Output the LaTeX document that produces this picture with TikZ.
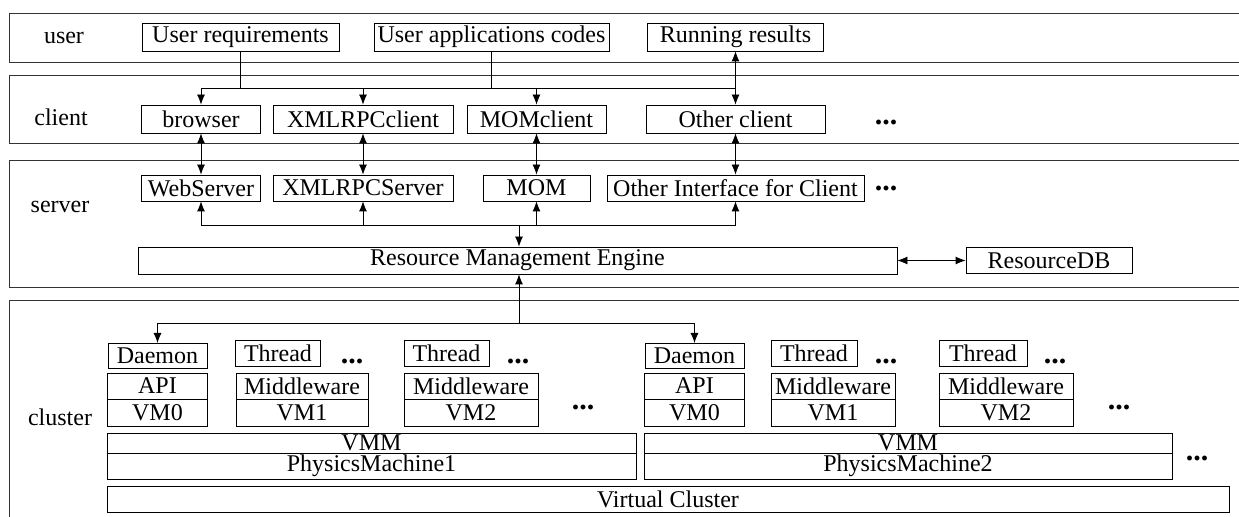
\documentclass[tikz,border=0pt]{standalone}
\usepackage{fontspec}
\setmainfont{Liberation Serif}
\usetikzlibrary{arrows.meta}

\begin{document}
\begin{tikzpicture}[x=0.5pt,y=-0.5pt,
    font=\fontsize{12pt}{14pt}\selectfont,
    box/.style={draw, inner sep=0pt, minimum height=14pt},
    wd/.style={minimum width=#1*0.5pt},
    ht/.style={minimum height=#1*0.5pt},
    band/.style={draw=black!80},
    more/.style={font=\fontsize{15pt}{15pt}\selectfont\bfseries, inner sep=0pt},
    arr/.style={-{Latex[length=5pt,width=4pt]}},
    darr/.style={{Latex[length=5pt,width=4pt]}-{Latex[length=5pt,width=4pt]}}]
  \clip (0,0) rectangle (1239,517);

% layers
  \draw[band] (9,13) rectangle (1245,62);
  \draw[band] (9,75) rectangle (1245,143);
  \draw[band] (9,160) rectangle (1245,287);
  \draw[band] (9,300) rectangle (1245,525);

  \node (luser) at (64,38) {user};
  \node (lclient) at (61,117) {client};
  \node (lserver) at (60,207) {server};
  \node (lcluster) at (60,417) {cluster};

% user
  \node[box,wd=197] (ureq) at (240.5,37) {User requirements};
  \node[box,wd=235] (ucode) at (491.5,37) {User applications codes};
  \node[box,wd=176] (ures) at (735.5,37) {Running results};

% client
  \node[box,wd=119] (browser) at (201,119) {browser};
  \node[box,wd=180] (xmlc) at (363,119) {XMLRPCclient};
  \node[box,wd=139] (momc) at (536.5,119) {MOMclient};
  \node[box,wd=179] (otherc) at (735.5,119) {Other client};
  \node[more] (cdots) at (886,122) {...};

  \coordinate (cbusL) at (201,88);
  \coordinate (cbusR) at (735.5,88);
  \draw (cbusL) -- (cbusR);
  \draw (ureq.south) -- (ureq.south |- cbusL);
  \draw (ucode.south) -- (ucode.south |- cbusL);
  \draw[arr] (cbusL) -- (browser.north);
  \draw[arr] (xmlc.north |- cbusL) -- (xmlc.north);
  \draw[arr] (momc.north |- cbusL) -- (momc.north);
  \draw[darr] (ures.south) -- (otherc.north);

% server
  \node[box,wd=119,ht=26] (websrv) at (201,188) {WebServer};
  \node[box,wd=180,ht=26] (xmls) at (363,188) {XMLRPCServer};
  \node[box,wd=107,ht=26] (mom) at (536.5,188) {MOM};
  \node[box,wd=257,ht=26] (otheri) at (735.5,188) {Other Interface for Client};
  \node[more] (sdots) at (886,188) {...};

  \draw[darr] (browser.south) -- (websrv.north);
  \draw[darr] (xmlc.south) -- (xmls.north);
  \draw[darr] (momc.south) -- (mom.north);
  \draw[darr] (otherc.south) -- (otheri.north);

  \node[box,wd=759,ht=27] (rme) at (517.5,260.5) {Resource Management Engine};
  \node[box,wd=166,ht=26] (rdb) at (1049,260.5) {ResourceDB};
  \draw[darr] (rme.east) -- (rdb.west);

  \coordinate (sbusL) at (201,225);
  \coordinate (sbusR) at (735.5,225);
  \coordinate (sbus) at (519,225);
  \draw[arr] (sbusL) -- (websrv.south);
  \draw[arr] (sbusL) -- (sbusR) -- (otheri.south);
  \draw[arr] (xmls.south |- sbusL) -- (xmls.south);
  \draw[arr] (mom.south |- sbusL) -- (mom.south);
  \draw[arr] (sbus) -- (sbus |- rme.north);

% cluster
  \coordinate (kbus) at (519,323);
  \coordinate (kbusL) at (157.5,323);
  \coordinate (kbusR) at (694.5,323);
  \draw[arr] (kbus) -- (kbus |- rme.south);
  \draw[arr] (kbus) -- (kbusL) -- ++(0,20);
  \draw[arr] (kbus) -- (kbusR) -- ++(0,20);

  % first physics machine
  \node[box,wd=99,ht=25] (dmn1) at (157.5,355.5) {Daemon};
  \node[box,wd=85,ht=26] (th11) at (278,353) {Thread};
  \node[box,wd=85,ht=26] (th12) at (446.5,353) {Thread};
  \node[more] (d11) at (352,361) {...};
  \node[more] (d12) at (518,361) {...};
  \node[box,wd=100,ht=26] (api1) at (157.5,386) {API};
  \node[box,wd=100,ht=27] (vm01) at (157.5,412.5) {VM0};
  \node[box,wd=132,ht=26] (mw11) at (302,386) {Middleware};
  \node[box,wd=132,ht=27] (vm11) at (302,412.5) {VM1};
  \node[box,wd=134,ht=26] (mw12) at (471,386) {Middleware};
  \node[box,wd=134,ht=27] (vm12) at (471,412.5) {VM2};
  \node[more] (d13) at (583,407) {...};
  \node[box,wd=529,ht=20] (vmm1) at (371.5,443) {VMM};
  \node[box,wd=529,ht=26] (pm1) at (371.5,466) {PhysicsMachine1};

  % second physics machine
  \node[box,wd=99,ht=25] (dmn2) at (694.5,355.5) {Daemon};
  \node[box,wd=86,ht=26] (th21) at (814,353) {Thread};
  \node[box,wd=88,ht=26] (th22) at (983,353) {Thread};
  \node[more] (d21) at (886,361) {...};
  \node[more] (d22) at (1055,361) {...};
  \node[box,wd=100,ht=26] (api2) at (694.5,386) {API};
  \node[box,wd=100,ht=27] (vm02) at (694.5,412.5) {VM0};
  \node[box,wd=124,ht=26] (mw21) at (833,386) {Middleware};
  \node[box,wd=124,ht=27] (vm21) at (833,412.5) {VM1};
  \node[box,wd=134,ht=26] (mw22) at (1006,386) {Middleware};
  \node[box,wd=134,ht=27] (vm22) at (1006,412.5) {VM2};
  \node[more] (d23) at (1119,407) {...};
  \node[box,wd=528,ht=20] (vmm2) at (908,443) {VMM};
  \node[box,wd=528,ht=26] (pm2) at (908,466) {PhysicsMachine2};
  \node[more] (d24) at (1197,458) {...};

  \node[box,wd=1122,ht=26] (vc) at (668,499) {Virtual Cluster};

\end{tikzpicture}
\end{document}
